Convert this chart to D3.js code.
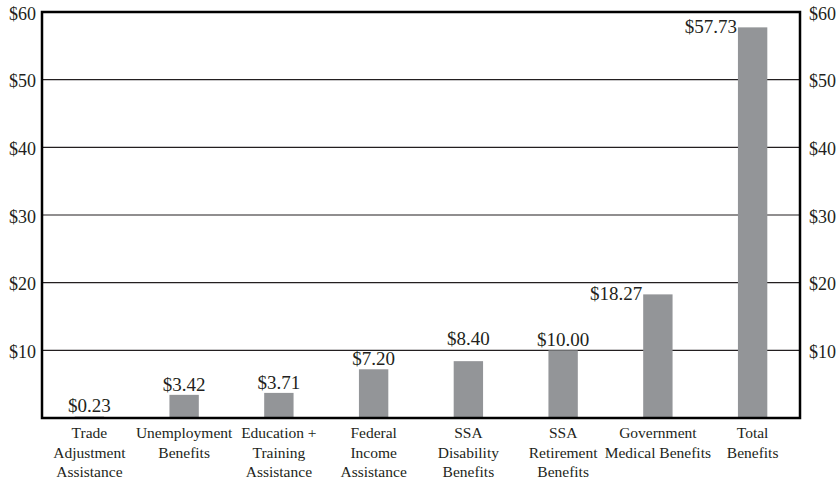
<!DOCTYPE html>
<html lang="en">
<head>
<meta charset="UTF-8">
<title>Benefits</title>
<script src="https://d3js.org/d3.v7.min.js"></script>
<style>
  body { margin: 0; background: #fff; }
</style>
</head>
<body>
<div id="chart"></div>
<script>
    const categories = [
        ["Trade", "Adjustment", "Assistance"],
        ["Unemployment", "Benefits"],
        ["Education +", "Training", "Assistance"],
        ["Federal", "Income", "Assistance"],
        ["SSA", "Disability", "Benefits"],
        ["SSA", "Retirement", "Benefits"],
        ["Government", "Medical Benefits"],
        ["Total", "Benefits"]
    ];
    const values = [0.23, 3.42, 3.71, 7.20, 8.40, 10.00, 18.27, 57.73];
    const yTicks = [10, 20, 30, 40, 50, 60];

    const width = 840;
    const height = 482;
    const margin = {top: 12, right: 40, bottom: 64, left: 42};
    const serif = "'Liberation Serif', 'Times New Roman', serif";

    const svg = d3.select("#chart")
        .append("svg")
        .attr("width", width)
        .attr("height", height)
        .attr("font-family", serif);

    const x = d3.scaleBand()
        .domain(d3.range(values.length))
        .range([margin.left, width - margin.right])
        .paddingInner(0.69)
        .paddingOuter(0.345);

    const y = d3.scaleLinear()
        .domain([0, 60])
        .range([height - margin.bottom, margin.top]);

    // gridlines
    svg.append("g")
        .selectAll("line")
        .data(yTicks)
        .join("line")
        .attr("x1", margin.left)
        .attr("x2", width - margin.right)
        .attr("y1", d => y(d))
        .attr("y2", d => y(d))
        .attr("stroke", "#231f20")
        .attr("stroke-width", 1.2);

    // bars
    svg.append("g")
        .selectAll("rect")
        .data(values)
        .join("rect")
        .attr("x", (d, i) => x(i))
        .attr("y", d => y(d))
        .attr("width", x.bandwidth())
        .attr("height", d => y(0) - y(d))
        .attr("fill", "#939598");

    // frame
    svg.append("rect")
        .attr("x", margin.left)
        .attr("y", margin.top)
        .attr("width", width - margin.left - margin.right)
        .attr("height", height - margin.top - margin.bottom)
        .attr("fill", "none")
        .attr("stroke", "#000")
        .attr("stroke-width", 2.5);

    // axes, both sides
    const fmt = d => "$" + d;
    const leftAxis = svg.append("g")
        .attr("transform", `translate(${margin.left},0)`)
        .call(d3.axisLeft(y).tickValues(yTicks).tickFormat(fmt).tickSize(0).tickPadding(6));
    const rightAxis = svg.append("g")
        .attr("transform", `translate(${width - margin.right},0)`)
        .call(d3.axisRight(y).tickValues(yTicks).tickFormat(fmt).tickSize(0).tickPadding(9));
    [leftAxis, rightAxis].forEach(g => {
        g.attr("font-family", serif).attr("font-size", 18);
        g.select(".domain").remove();
        g.selectAll("text")
            .attr("fill", "#231f20")
            .attr("dy", "0.4em");
    });

    // value labels: big bars get their label beside the top, left of the bar
    const beside = i => values[i] > 15;
    svg.append("g")
        .selectAll("text")
        .data(values)
        .join("text")
        .attr("font-size", 19)
        .attr("fill", "#231f20")
        .attr("text-anchor", (d, i) => beside(i) ? "end" : "middle")
        .attr("x", (d, i) => beside(i) ? x(i) - 1 : x(i) + x.bandwidth() / 2)
        .attr("y", (d, i) => {
            if (beside(i)) return y(d) + 6;
            if (d > 8 && d < 10) return y(10) - 5;
            return y(d) - 4;
        })
        .text(d => "$" + d.toFixed(2));

    // category labels
    const cat = svg.append("g")
        .selectAll("text")
        .data(categories)
        .join("text")
        .attr("font-size", 15.5)
        .attr("fill", "#231f20")
        .attr("text-anchor", "middle")
        .attr("x", (d, i) => x(i) + x.bandwidth() / 2)
        .attr("y", y(0) + 20);
    cat.selectAll("tspan")
        .data(d => d)
        .join("tspan")
        .attr("x", function () { return d3.select(this.parentNode).attr("x"); })
        .attr("dy", (d, j) => j === 0 ? 0 : 19.5)
        .text(d => d);
</script>
</body>
</html>
